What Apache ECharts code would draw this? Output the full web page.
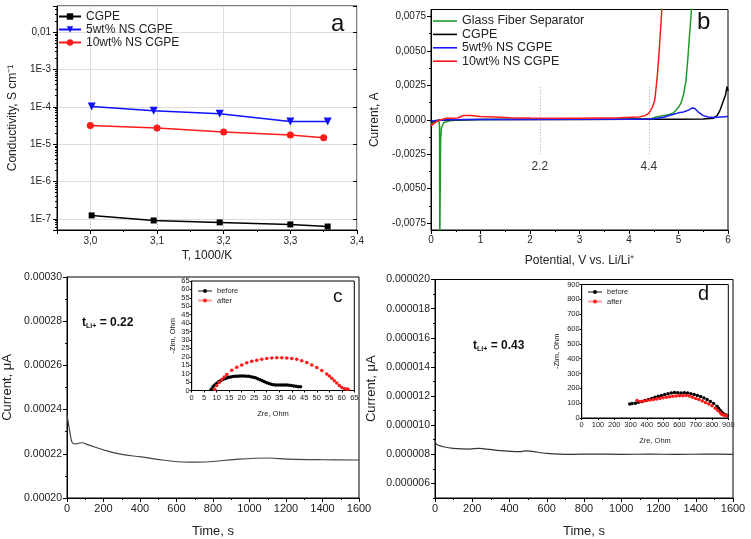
<!DOCTYPE html>
<html><head><meta charset="utf-8">
<script src="https://cdn.jsdelivr.net/npm/echarts@6/dist/echarts.min.js"></script>
<style>html,body{margin:0;padding:0;background:#fff}#c{width:751px;height:539px}</style>
</head><body><div id="c"></div><script>
// ---------- Panel a: conductivity ----------
const aNames = ['CGPE', '5wt% NS CGPE', '10wt% NS CGPE'];
const aX_CGPE = [3.002, 3.095, 3.194, 3.3, 3.356];
const aY_CGPE = [1.23e-7, 9.0e-8, 8.0e-8, 7.05e-8, 6.2e-8];
const aX_5 = [3.002, 3.095, 3.194, 3.3, 3.356];
const aY_5 = [1.02e-4, 7.8e-5, 6.5e-5, 4.05e-5, 4.05e-5];
const aX_10 = [3.0, 3.1, 3.2, 3.3, 3.35];
const aY_10 = [3.16e-5, 2.68e-5, 2.1e-5, 1.74e-5, 1.48e-5];
const aMinorX = [3.05, 3.15, 3.25, 3.35];
const aYLabels = {'-7': '1E-7', '-6': '1E-6', '-5': '1E-5', '-4': '1E-4', '-3': '1E-3', '-2': '0,01'};

// ---------- Panel b: LSV ----------
const bNames = ['Glass Fiber Separator', 'CGPE', '5wt% NS CGPE', '10wt% NS CGPE'];
const bGlass = [[0,-0.0003],[0.05,-0.0002],[0.1,-0.00012],[0.16,-0.0001],[0.172,-0.0004],[0.178,-0.009],[0.188,-0.009],[0.194,-0.0015],[0.21,-0.0006],[0.26,-0.0002],[0.4,-0.00005],[1,0.00002],[2,0.00003],[3,0.00004],[4,0.00005],[4.45,0.00008],[4.55,0.0002],[4.65,0.00028],[4.8,0.00036],[4.9,0.0005],[5.0,0.0009],[5.05,0.0012],[5.1,0.0018],[5.15,0.0028],[5.19,0.0045],[5.22,0.006],[5.25,0.0074],[5.27,0.0085]];
const bCGPE = [[0,-0.0002],[0.05,-0.0001],[0.15,-0.00003],[0.5,0],[1,0.00001],[2,0.00002],[3,0.00002],[4,0.00003],[5,0.00004],[5.5,0.00006],[5.7,0.0001],[5.78,0.0003],[5.84,0.0007],[5.88,0.0011],[5.92,0.0015],[5.95,0.0018],[5.98,0.0024],[6.0,0.0021]];
const b5 = [[0,-0.0001],[0.1,-0.00005],[0.3,0],[1,0.00001],[2,0.00002],[3,0.00003],[4,0.00004],[4.4,0.00005],[4.5,0.00008],[4.7,0.00018],[4.83,0.00033],[5.0,0.0005],[5.1,0.00056],[5.2,0.0007],[5.28,0.00086],[5.33,0.00082],[5.4,0.00056],[5.5,0.0003],[5.6,0.0002],[5.72,0.00016],[5.85,0.0002],[6.0,0.00024]];
const b10 = [[0,-0.00045],[0.05,-0.0003],[0.12,-0.0001],[0.2,0],[0.3,0.0001],[0.45,0.0001],[0.55,0.00015],[0.66,0.00031],[0.8,0.0003],[1.0,0.00024],[1.3,0.0002],[1.6,0.00015],[2,0.00012],[3,0.0001],[3.8,0.00014],[4.2,0.0002],[4.32,0.0003],[4.4,0.00047],[4.47,0.0009],[4.52,0.0014],[4.57,0.0031],[4.61,0.005],[4.65,0.0072],[4.67,0.0085]];
const bMarkV = [2.2, 4.4];
const bMarkRange = [-0.0025, 0.0025];
const bYTicks = [-0.0075, -0.005, -0.0025, 0, 0.0025, 0.005, 0.0075];
const bYMinor = [-0.00625, -0.00375, -0.00125, 0.00125, 0.00375, 0.00625];

// ---------- Panel c: chronoamperometry ----------
const cT = [0, 14, 32, 50, 77, 122, 202, 300, 407, 496, 604, 675, 782, 925, 1104, 1211, 1408, 1600];
const cI = [0.000238, 0.0002307, 0.0002247, 0.0002245, 0.000225, 0.0002239, 0.0002217, 0.0002197, 0.0002186, 0.0002175, 0.0002164, 0.0002162, 0.0002164, 0.0002175, 0.0002181, 0.0002176, 0.0002173, 0.0002172];
const insetNames = ['before', 'after'];
const cBeforeX = [7.8,8.5,9.2,10,10.8,11.6,12.4,13.2,14,14.8,15.6,16.5,17.4,18.3,19.2,20.1,21,21.9,22.8,23.7,24.6,25.5,26.4,27.3,28.2,29.1,30,30.9,31.8,32.7,33.6,34.5,35.4,36.3,37.2,38.1,39,39.9,40.8,41.7,42.6,43.5];
const cBeforeY = [0.8,2.2,3.3,4.3,5.2,5.9,6.5,7,7.4,7.8,8,8.3,8.4,8.5,8.6,8.6,8.6,8.5,8.4,8.2,7.9,7.5,7,6.4,5.8,5.2,4.6,4.1,3.7,3.4,3.3,3.3,3.3,3.3,3.3,3.2,3.1,2.9,2.7,2.5,2.3,2.2];
const cAfterX = [9.2,10,11,12,13,14,16,18,20,22,24,26,28,30,32,34,36,38,40,42,44,46,48,50,52,54,55,56,57,58,59,60,61,62,62.5];
const cAfterY = [0.6,3,4.8,6.5,8,9.5,12,13.8,15.2,16.4,17.3,18,18.6,19,19.3,19.4,19.5,19.3,19,18.5,17.7,16.6,15.2,13.6,11.8,9.8,8.6,7.2,5.8,4.4,3,1.8,1.1,0.9,0.8];

// ---------- Panel d ----------
const dT = [0, 9, 45, 98, 188, 232, 331, 456, 483, 599, 724, 850, 1000, 1150, 1300, 1450, 1600];
const dI = [8.98e-6, 8.68e-6, 8.52e-6, 8.41e-6, 8.36e-6, 8.41e-6, 8.27e-6, 8.18e-6, 8.23e-6, 8.07e-6, 8.0e-6, 8.02e-6, 8.0e-6, 8.01e-6, 8.0e-6, 8.01e-6, 8.0e-6];
const dYTicks = [6e-6, 8e-6, 10e-6, 12e-6, 14e-6, 16e-6, 18e-6, 20e-6];
const dYMinor = [5e-6, 7e-6, 9e-6, 11e-6, 13e-6, 15e-6, 17e-6, 19e-6];
const dBeforeX = [295,310,330,350,370,390,410,430,450,470,490,510,530,550,570,590,610,630,650,670,690,710,730,750,770,790,810,830,840,850,860,870,880,890,895];
const dBeforeY = [95,97,100,107,112,118,125,132,140,146,152,158,163,168,172,170,168,170,168,163,158,152,145,135,125,112,97,80,65,50,38,28,22,18,15];
const dAfterX = [340,360,380,400,420,440,460,480,500,520,540,560,580,600,620,640,660,680,700,720,740,760,780,800,820,835,850,860,870,880,890];
const dAfterY = [118,112,115,118,122,125,128,132,136,140,143,146,148,150,150,152,148,140,132,125,115,105,95,82,65,50,35,25,20,18,15];

const FONT = 'Liberation Sans, Arial, sans-serif';
const TXT = '#222';
const zip = (xs, ys) => xs.map((x, i) => [x, ys[i]]);
const key = (p, n) => p + '|' + n;          // unique series keys per panel
const shown = n => n.split('|')[1];          // legend shows the plain name

function axisBase(o) {
  return Object.assign({
    axisLine: {show: true, onZero: false, lineStyle: {color: '#000', width: 1}},
    axisTick: {show: true, inside: false, length: 4, lineStyle: {color: '#000'}},
    axisLabel: {color: TXT, fontFamily: FONT, fontSize: 10, margin: 5},
    splitLine: {show: false},
    nameTextStyle: {color: TXT, fontFamily: FONT, fontSize: 12},
    nameLocation: 'middle'
  }, o);
}
function minorAxis(o) {
  return Object.assign({
    axisLine: {show: false},
    axisTick: {show: true, inside: false, length: 2, lineStyle: {color: '#000'}},
    axisLabel: {show: false},
    splitLine: {show: false}
  }, o);
}
const plain = v => String(Math.round(v));

const grids = [
  {left: 57, top: 6, width: 300, height: 224},
  {left: 431, top: 9.5, width: 297, height: 220.5},
  {left: 61, top: 277, width: 298, height: 222},
  {left: 435, top: 279.5, width: 298, height: 220.5},
  {left: 191.7, top: 281, width: 162.6, height: 109.5},
  {left: 581.7, top: 284.5, width: 146.6, height: 133.5}
].map(g => Object.assign({show: true, borderColor: '#000', borderWidth: 1, backgroundColor: 'transparent', containLabel: false}, g));

const xAxes = [
  // 0: a
  axisBase({gridIndex: 0, type: 'value', min: 2.95, max: 3.4, splitNumber: 5, name: 'T, 1000/K', nameGap: 20,
    axisLabel: {color: TXT, fontFamily: FONT, fontSize: 10, margin: 6, formatter: v => {
      const r = Math.round(v * 10) / 10; return Math.abs(r - v) < 1e-6 ? r.toFixed(1).replace('.', ',') : ''; }},
    splitLine: {show: true, lineStyle: {color: '#ddd', width: 1}}}),
  // 1: b
  axisBase({gridIndex: 1, type: 'value', min: 0, max: 6, interval: 1, name: 'Potential, V vs. Li/Li⁺', nameGap: 25,
    axisLabel: {color: TXT, fontFamily: FONT, fontSize: 10, margin: 5, formatter: plain},
    minorTick: {show: true, splitNumber: 2, length: 2, lineStyle: {color: '#000'}}}),
  // 2: c
  axisBase({gridIndex: 2, type: 'value', min: 0, max: 1600, interval: 200, name: 'Time, s', nameGap: 27,
    nameTextStyle: {color: TXT, fontFamily: FONT, fontSize: 13},
    axisLabel: {color: TXT, fontFamily: FONT, fontSize: 11, margin: 5, formatter: plain},
    minorTick: {show: true, splitNumber: 2, length: 2, lineStyle: {color: '#000'}}}),
  // 3: d
  axisBase({gridIndex: 3, type: 'value', min: 0, max: 1600, interval: 200, name: 'Time, s', nameGap: 27,
    nameTextStyle: {color: TXT, fontFamily: FONT, fontSize: 13},
    axisLabel: {color: TXT, fontFamily: FONT, fontSize: 11, margin: 5, formatter: plain},
    minorTick: {show: true, splitNumber: 2, length: 2, lineStyle: {color: '#000'}}}),
  // 4: inset c
  axisBase({gridIndex: 4, type: 'value', min: 0, max: 65, interval: 5, name: 'Zre, Ohm', nameGap: 19,
    nameTextStyle: {color: TXT, fontFamily: FONT, fontSize: 7.5},
    axisTick: {show: true, length: 2, lineStyle: {color: '#000'}},
    axisLabel: {color: TXT, fontFamily: FONT, fontSize: 7.5, margin: 3, formatter: plain}}),
  // 5: inset d
  axisBase({gridIndex: 5, type: 'value', min: 0, max: 900, interval: 100, name: 'Zre, Ohm', nameGap: 19,
    nameTextStyle: {color: TXT, fontFamily: FONT, fontSize: 7.5},
    axisTick: {show: true, length: 2, lineStyle: {color: '#000'}},
    axisLabel: {color: TXT, fontFamily: FONT, fontSize: 7.5, margin: 3, formatter: plain}}),
  // 6: a minor x
  minorAxis({gridIndex: 0, type: 'value', min: 2.95, max: 3.4, position: 'bottom',
    axisTick: {show: true, length: 2, lineStyle: {color: '#000'}, customValues: aMinorX}})
];

const yAxes = [
  // 0: a (log)
  axisBase({gridIndex: 0, type: 'log', logBase: 10, min: 5e-8, max: 0.05, name: 'Conductivity, S cm⁻¹', nameGap: 38,
    axisLabel: {color: TXT, fontFamily: FONT, fontSize: 10, margin: 6, formatter: v => {
      const l = Math.log10(v); const r = Math.round(l); return Math.abs(l - r) < 1e-6 && aYLabels[r] ? aYLabels[r] : ''; }},
    minorTick: {show: true, splitNumber: 9, length: 2, lineStyle: {color: '#000'}},
    splitLine: {show: true, lineStyle: {color: '#ddd', width: 1}}}),
  // 1: b
  axisBase({gridIndex: 1, type: 'value', min: -0.008, max: 0.008, name: 'Current, A', nameGap: 50,
    axisTick: {show: true, length: 4, lineStyle: {color: '#000'}, customValues: bYTicks},
    axisLabel: {color: TXT, fontFamily: FONT, fontSize: 10, margin: 5, customValues: bYTicks,
      formatter: v => (Math.abs(v) < 1e-9 ? 0 : v).toFixed(4).replace('.', ',')}}),
  // 2: c
  axisBase({gridIndex: 2, type: 'value', min: 0.0002, max: 0.0003, interval: 0.00002, name: 'Current, μA', nameGap: 53,
    nameTextStyle: {color: TXT, fontFamily: FONT, fontSize: 13},
    axisLabel: {color: TXT, fontFamily: FONT, fontSize: 10.5, margin: 5, formatter: v => v.toFixed(5)},
    minorTick: {show: true, splitNumber: 2, length: 2, lineStyle: {color: '#000'}}}),
  // 3: d
  axisBase({gridIndex: 3, type: 'value', min: 0.000005, max: 0.00002, name: 'Current, μA', nameGap: 57,
    nameTextStyle: {color: TXT, fontFamily: FONT, fontSize: 13},
    axisTick: {show: true, length: 4, lineStyle: {color: '#000'}, customValues: dYTicks},
    axisLabel: {color: TXT, fontFamily: FONT, fontSize: 10.5, margin: 5, customValues: dYTicks, formatter: v => v.toFixed(6)}}),
  // 4: inset c
  axisBase({gridIndex: 4, type: 'value', min: 0, max: 65, interval: 5, name: '-Zim, Ohm', nameGap: 15,
    nameTextStyle: {color: TXT, fontFamily: FONT, fontSize: 7.5},
    axisTick: {show: true, length: 2, lineStyle: {color: '#000'}},
    axisLabel: {color: TXT, fontFamily: FONT, fontSize: 7.5, margin: 2, formatter: plain}}),
  // 5: inset d
  axisBase({gridIndex: 5, type: 'value', min: 0, max: 900, interval: 100, name: '-Zim, Ohm', nameGap: 21,
    nameTextStyle: {color: TXT, fontFamily: FONT, fontSize: 7.5},
    axisTick: {show: true, length: 2, lineStyle: {color: '#000'}},
    axisLabel: {color: TXT, fontFamily: FONT, fontSize: 7.5, margin: 2, formatter: plain}}),
  // 6: a right inward ticks
  minorAxis({gridIndex: 0, type: 'log', logBase: 10, min: 5e-8, max: 0.05, position: 'right',
    axisTick: {show: true, inside: true, length: 4, lineStyle: {color: '#000'}}}),
  // 7: b minor
  minorAxis({gridIndex: 1, type: 'value', min: -0.008, max: 0.008, position: 'left',
    axisTick: {show: true, length: 2, lineStyle: {color: '#000'}, customValues: bYMinor}}),
  // 8: d minor
  minorAxis({gridIndex: 3, type: 'value', min: 0.000005, max: 0.00002, position: 'left',
    axisTick: {show: true, length: 2, lineStyle: {color: '#000'}, customValues: dYMinor}})
];

const lineBase = {type: 'line', animation: false, clip: true};
const series = [
  Object.assign({}, lineBase, {name: key('a', aNames[0]), xAxisIndex: 0, yAxisIndex: 0, data: zip(aX_CGPE, aY_CGPE),
    symbol: 'rect', symbolSize: 6, itemStyle: {color: '#000'}, lineStyle: {color: '#000', width: 1.5}}),
  Object.assign({}, lineBase, {name: key('a', aNames[1]), xAxisIndex: 0, yAxisIndex: 0, data: zip(aX_5, aY_5),
    symbol: 'triangle', symbolRotate: 180, symbolSize: 8, itemStyle: {color: '#1010ff'}, lineStyle: {color: '#1010ff', width: 1.5}}),
  Object.assign({}, lineBase, {name: key('a', aNames[2]), xAxisIndex: 0, yAxisIndex: 0, data: zip(aX_10, aY_10),
    symbol: 'circle', symbolSize: 7, itemStyle: {color: '#ff1a1a'}, lineStyle: {color: '#ff1a1a', width: 1.5}}),

  Object.assign({}, lineBase, {name: key('b', bNames[0]), xAxisIndex: 1, yAxisIndex: 1, data: bGlass, showSymbol: false, symbol: 'none',
    itemStyle: {color: '#1f9a2a'}, lineStyle: {color: '#1f9a2a', width: 1.5}}),
  Object.assign({}, lineBase, {name: key('b', bNames[1]), xAxisIndex: 1, yAxisIndex: 1, data: bCGPE, showSymbol: false, symbol: 'none',
    itemStyle: {color: '#000'}, lineStyle: {color: '#000', width: 1.5}, z: 3,
    markLine: {silent: true, symbol: 'none', animation: false,
      lineStyle: {color: '#aaa', type: [1, 2], width: 1},
      label: {show: true, position: 'start', formatter: '{b}', color: '#333', fontFamily: FONT, fontSize: 12, distance: 6},
      data: bMarkV.map(v => [{coord: [v, bMarkRange[0]], name: String(v)}, {coord: [v, bMarkRange[1]]}])}}),
  Object.assign({}, lineBase, {name: key('b', bNames[2]), xAxisIndex: 1, yAxisIndex: 1, data: b5, showSymbol: false, symbol: 'none',
    itemStyle: {color: '#1a1aff'}, lineStyle: {color: '#1a1aff', width: 1.5}, z: 4}),
  Object.assign({}, lineBase, {name: key('b', bNames[3]), xAxisIndex: 1, yAxisIndex: 1, data: b10, showSymbol: false, symbol: 'none',
    itemStyle: {color: '#ff1a1a'}, lineStyle: {color: '#ff1a1a', width: 1.5}, z: 5}),

  Object.assign({}, lineBase, {name: 'c|main', xAxisIndex: 2, yAxisIndex: 2, data: zip(cT, cI), smooth: 0.4, showSymbol: false, symbol: 'none',
    lineStyle: {color: '#444', width: 1.2}}),
  Object.assign({}, lineBase, {name: 'd|main', xAxisIndex: 3, yAxisIndex: 3, data: zip(dT, dI), smooth: 0.3, showSymbol: false, symbol: 'none',
    lineStyle: {color: '#333', width: 1.2}}),

  Object.assign({}, lineBase, {name: key('c', insetNames[0]), xAxisIndex: 4, yAxisIndex: 4, data: zip(cBeforeX, cBeforeY),
    symbol: 'circle', symbolSize: 3.5, itemStyle: {color: '#000'}, lineStyle: {color: '#888', width: 0.6}}),
  Object.assign({}, lineBase, {name: key('c', insetNames[1]), xAxisIndex: 4, yAxisIndex: 4, data: zip(cAfterX, cAfterY),
    symbol: 'circle', symbolSize: 3.5, itemStyle: {color: '#ff1a1a'}, lineStyle: {color: '#ff9a9a', width: 0.6}}),
  Object.assign({}, lineBase, {name: key('d', insetNames[0]), xAxisIndex: 5, yAxisIndex: 5, data: zip(dBeforeX, dBeforeY),
    symbol: 'circle', symbolSize: 3.5, itemStyle: {color: '#000'}, lineStyle: {color: '#888', width: 0.6}}),
  Object.assign({}, lineBase, {name: key('d', insetNames[1]), xAxisIndex: 5, yAxisIndex: 5, data: zip(dAfterX, dAfterY),
    symbol: 'circle', symbolSize: 3.5, itemStyle: {color: '#ff1a1a'}, lineStyle: {color: '#ff9a9a', width: 0.6}})
];

const legendText = (fs, lh) => ({color: TXT, fontFamily: FONT, fontSize: fs, lineHeight: lh});
const legends = [
  {data: aNames.map(n => key('a', n)), formatter: shown, left: 58, top: 10.5, orient: 'vertical', itemWidth: 22, itemHeight: 8, itemGap: 1, textStyle: legendText(12, 12), padding: 0, selectedMode: false},
  {data: bNames.map(n => key('b', n)), formatter: shown, left: 433, top: 14.5, orient: 'vertical', icon: 'rect', itemWidth: 24, itemHeight: 1.6, itemGap: 0.4, textStyle: legendText(12.5, 13), padding: 0, selectedMode: false},
  {data: insetNames.map(n => key('c', n)), formatter: shown, left: 197, top: 287, orient: 'vertical', itemWidth: 14, itemHeight: 5, itemGap: 1.5, textStyle: legendText(7.5, 8), padding: 0, selectedMode: false},
  {data: insetNames.map(n => key('d', n)), formatter: shown, left: 587, top: 288, orient: 'vertical', itemWidth: 14, itemHeight: 5, itemGap: 1.5, textStyle: legendText(7.5, 8), padding: 0, selectedMode: false}
];

const letter = (t, x, y, fs) => ({type: 'text', left: x, top: y, style: {text: t, font: fs + 'px ' + FONT, fill: '#111'}});
const tLabel = (val, x, y) => ({type: 'text', left: x, top: y, style: {
  text: '{t|t}{s|Li+}{t| = ' + val + '}',
  rich: {t: {font: 'bold 12px ' + FONT, fill: '#111'}, s: {font: 'bold 7px ' + FONT, fill: '#111', padding: [6, 0, 0, 0]}}}});

const chart = echarts.init(document.getElementById('c'), null, {renderer: 'canvas'});
chart.setOption({
  animation: false,
  backgroundColor: '#fff',
  grid: grids,
  xAxis: xAxes,
  yAxis: yAxes,
  legend: legends,
  series: series,
  graphic: [
    letter('a', 331, 12, 24),
    letter('b', 697, 10, 24),
    letter('c', 333, 287, 19),
    letter('d', 698, 284, 20),
    tLabel('0.22', 82, 317),
    tLabel('0.43', 473, 340)
  ]
});
</script></body></html>
